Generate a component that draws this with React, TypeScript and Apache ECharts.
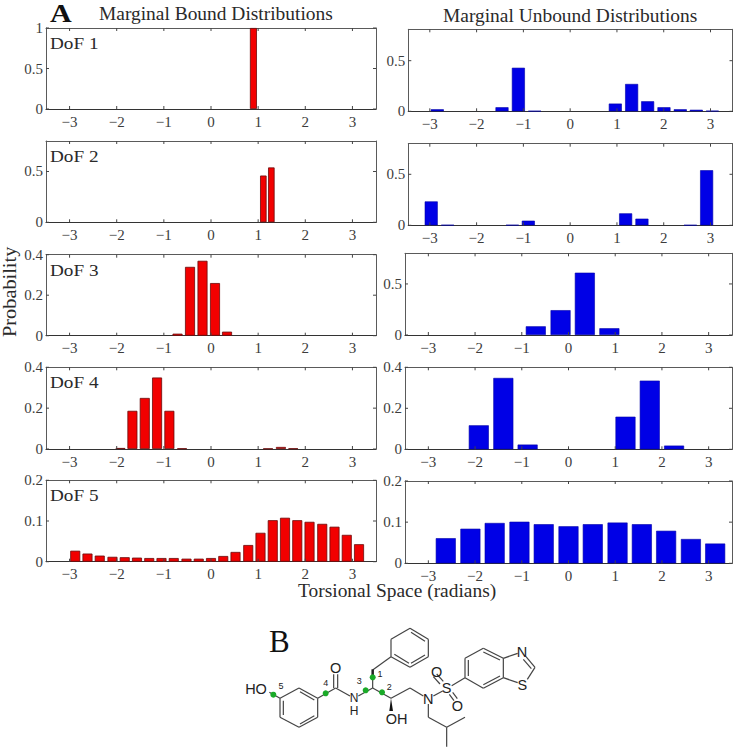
import React, { useEffect, useRef } from "react";
import * as echarts from "echarts";

const xTicks = [-3, -2, -1, 0, 1, 2, 3];
const panelLabels = ["DoF 1", "DoF 2", "DoF 3", "DoF 4", "DoF 5"];
const yTicksTall = [0, 0.5];
const yTicksUnit = [0, 0.5, 1];
const yTicksMid = [0, 0.2, 0.4];
const yTicksLow = [0, 0.1, 0.2];

// Bound (red) histograms
const bound1X = [0.9];
const bound1Y = [1.0];
const bound2X = [1.11, 1.28];
const bound2Y = [0.46, 0.54];
const bound3X = [-0.71, -0.445, -0.18, 0.085, 0.34];
const bound3Y = [0.01, 0.34, 0.37, 0.26, 0.02];
const bound4X = [-1.92, -1.667, -1.405, -1.144, -0.883, -0.614, 1.21, 1.483, 1.744];
const bound4Y = [0.005, 0.187, 0.25, 0.35, 0.187, 0.003, 0.002, 0.01, 0.003];
const bound5X = [-2.88, -2.62, -2.36, -2.09, -1.83, -1.57, -1.31, -1.05, -0.79, -0.52, -0.26, 0, 0.26, 0.52, 0.79, 1.05, 1.31, 1.57, 1.83, 2.09, 2.36, 2.62, 2.88, 3.14];
const bound5Y = [0.027, 0.02, 0.015, 0.012, 0.011, 0.01, 0.009, 0.009, 0.009, 0.0075, 0.0075, 0.009, 0.014, 0.024, 0.041, 0.071, 0.102, 0.108, 0.102, 0.098, 0.093, 0.086, 0.066, 0.043];

// Unbound (blue) histograms
const unbound1X = [-2.84, -1.457, -1.107, -0.759, 0.965, 1.314, 1.656, 2.005, 2.354, 2.696, 3.04];
const unbound1Y = [0.02, 0.04, 0.43, 0.003, 0.076, 0.27, 0.099, 0.04, 0.02, 0.015, 0.005];
const unbound2X = [-2.97, -2.62, -1.235, -0.894, 1.186, 1.534, 2.57, 2.917];
const unbound2Y = [0.234, 0.003, 0.003, 0.045, 0.117, 0.065, 0.002, 0.54];
const unbound3X = [-0.7, -0.17, 0.35, 0.875];
const unbound3Y = [0.085, 0.243, 0.61, 0.066];
const unbound4X = [-1.92, -1.395, -0.875, 1.22, 1.74, 2.26];
const unbound4Y = [0.117, 0.348, 0.023, 0.159, 0.335, 0.018];
const unbound5X = [-2.627, -2.1, -1.58, -1.05, -0.53, 0, 0.52, 1.05, 1.57, 2.09, 2.62, 3.14];
const unbound5Y = [0.061, 0.084, 0.098, 0.101, 0.095, 0.09, 0.095, 0.099, 0.095, 0.079, 0.059, 0.048];

const zip = (xs: number[], ys: number[]) => xs.map((x, i) => [x, ys[i]]);

const panels = [
  { l: 46, r: 376, t: 28, b: 109, max: 1, ticks: yTicksUnit, xs: bound1X, ys: bound1Y, w: 7, red: true },
  { l: 46, r: 376, t: 141, b: 222.3, max: 0.8, ticks: yTicksTall, xs: bound2X, ys: bound2Y, w: 6.5, red: true },
  { l: 46, r: 376, t: 254.7, b: 335.7, max: 0.4, ticks: yTicksMid, xs: bound3X, ys: bound3Y, w: 10, red: true },
  { l: 46, r: 376, t: 367.3, b: 449, max: 0.4, ticks: yTicksMid, xs: bound4X, ys: bound4Y, w: 10, red: true },
  { l: 46, r: 376, t: 480.3, b: 561.7, max: 0.2, ticks: yTicksLow, xs: bound5X, ys: bound5Y, w: 10, red: true },
  { l: 408.3, r: 732.5, t: 29.3, b: 111.3, max: 0.81, ticks: yTicksTall, xs: unbound1X, ys: unbound1Y, w: 13, red: false },
  { l: 408.3, r: 732.5, t: 143.7, b: 225.3, max: 0.8, ticks: yTicksTall, xs: unbound2X, ys: unbound2Y, w: 13, red: false },
  { l: 405, r: 732, t: 253.3, b: 335, max: 0.8, ticks: yTicksTall, xs: unbound3X, ys: unbound3Y, w: 20, red: false },
  { l: 405, r: 732, t: 367.3, b: 449.3, max: 0.4, ticks: yTicksMid, xs: unbound4X, ys: unbound4Y, w: 20, red: false },
  { l: 405, r: 732, t: 481, b: 563.3, max: 0.2, ticks: yTicksLow, xs: unbound5X, ys: unbound5Y, w: 20, red: false },
];

// x-range of each column; the upper two right-hand panels are offset a touch in the figure
const xMin = [-3.5, -3.5, -3.5, -3.5, -3.5, -3.46, -3.46, -3.5, -3.5, -3.5];
const xMax = [3.5, 3.5, 3.5, 3.5, 3.5, 3.47, 3.47, 3.5, 3.5, 3.5];

const SERIF = "'Liberation Serif', 'Times New Roman', serif";
const AXIS = "#5a5a5a";
const TEXT = "#3c3c3c";
const TICK_LEN = 3;

const fmt = (v: number) => String(v).replace("-", "\u2212");

const sx = (z: number) => 220 + z / 3;
const sy = (z: number) => 610 + z / 3;

// Skeletal formula of the ligand, in a local frame
const bonds: number[][] = [
  [237, 234, 293, 265], [293, 265, 293, 322], [293, 322, 237, 352], [237, 352, 180, 322], [180, 322, 180, 265], [180, 265, 237, 234],
  [190, 272, 190, 315], [240, 342, 283, 317], [240, 245, 283, 270],
  [180, 265, 148, 247], [293, 265, 347, 234],
  [341, 234, 341, 193], [353, 234, 353, 193],
  [347, 234, 390, 258], [415, 258, 458, 234], [458, 234, 458, 180], [458, 180, 513, 140],
  [513, 140, 513, 88], [513, 88, 570, 55], [570, 55, 625, 88], [625, 88, 625, 140], [625, 140, 570, 172], [570, 172, 513, 140],
  [523, 133, 567, 160], [573, 160, 615, 135], [615, 94, 573, 67],
  [458, 234, 513, 265], [513, 265, 570, 234], [570, 234, 610, 258],
  [625, 282, 625, 322], [625, 322, 680, 352], [680, 352, 735, 322], [680, 352, 680, 410],
  [640, 258, 668, 243],
  [660, 222, 640, 200], [670, 214, 650, 192],
  [688, 253, 702, 272], [698, 247, 712, 266],
  [695, 227, 735, 203],
  [735, 203, 735, 145], [735, 145, 790, 115], [790, 115, 850, 145], [850, 145, 850, 203], [850, 203, 790, 235], [790, 235, 735, 203],
  [745, 198, 745, 150], [790, 126, 840, 150], [840, 198, 790, 224],
  [850, 145, 893, 130], [918, 140, 945, 172], [910, 148, 934, 176], [945, 172, 922, 208], [893, 218, 850, 203],
];
const greenDots: number[][] = [[458, 202], [437, 241], [486, 247], [317, 250], [160, 254]];
const atoms: [string, number, number, number][] = [
  ["HO", 108, 236, 14.5], ["O", 347, 175, 14.5], ["N", 402, 263, 12], ["H", 402, 304, 12], ["OH", 530, 326, 14.5],
  ["N", 625, 267, 14.5], ["S", 680, 235, 14.5], ["O", 650, 185, 14.5], ["O", 712, 287, 14.5], ["N", 906, 125, 14.5], ["S", 907, 225, 14.5],
  ["1", 480, 192, 9], ["2", 508, 230, 9], ["3", 418, 212, 9], ["4", 317, 220, 9], ["5", 183, 228, 9],
];

function buildGraphics() {
  const label = (text: string, x: number, y: number, size: number, extra: any = {}) => ({
    type: "text", x, y, silent: true, ...extra,
    style: { text, fontFamily: SERIF, fontSize: size, fill: "#2a2a2a", textAlign: "left", textVerticalAlign: "middle", ...(extra.style || {}) },
  });
  const els: any[] = [
    label("A", 50, 13.5, 25, { scaleX: 1.2, style: { fontWeight: "bold", fill: "#111" } }),
    label("Marginal Bound Distributions", 99, 14, 18, { scaleX: 1.08 }),
    label("Marginal Unbound Distributions", 443, 16, 18, { scaleX: 1.08 }),
    label("Torsional Space (radians)", 298, 591, 18, { scaleX: 1.08 }),
    label("Probability", 10, 337, 18, { rotation: Math.PI / 2, scaleX: 1.13 }),
    label("B", 269, 641, 31, { style: { fill: "#111" } }),
  ];
  panelLabels.forEach((t, i) => {
    els.push(label(t, 50, panels[i].t + 15.5, 17, { scaleX: 1.13 }));
  });
  bonds.forEach((b) => {
    els.push({ type: "line", silent: true, shape: { x1: sx(b[0]), y1: sy(b[1]), x2: sx(b[2]), y2: sy(b[3]) }, style: { stroke: "#444", lineWidth: 1.2 } });
  });
  els.push({ type: "polygon", silent: true, shape: { points: [[sx(513), sy(265)], [sx(508), sy(303)], [sx(519), sy(303)]] }, style: { fill: "#111" } });
  els.push({ type: "line", silent: true, shape: { x1: sx(458), y1: sy(205), x2: sx(458), y2: sy(178) }, style: { stroke: "#222", lineWidth: 2.5 } });
  greenDots.forEach((d) => {
    els.push({ type: "circle", silent: true, shape: { cx: sx(d[0]), cy: sy(d[1]), r: 3 }, style: { fill: "#1aaa28" } });
  });
  atoms.forEach(([t, x, y, s]) => {
    els.push({
      type: "text", silent: true, x: sx(x), y: sy(y),
      style: { text: t, fontFamily: "'Liberation Sans', sans-serif", fontSize: s, fill: "#222", textAlign: "center", textVerticalAlign: "middle" },
    });
  });
  return els;
}

// Box ticks on all four sides of a panel, placed through the panel's own scales
function renderTick(params: any, api: any) {
  const c = params.coordSys;
  const isX = api.value(2) === 0;
  const p = api.coord([api.value(0), api.value(1)]);
  const style = { stroke: "#444", lineWidth: 1, fill: "none" };
  const seg = (x1: number, y1: number, x2: number, y2: number) => ({
    type: "line", silent: true, shape: { x1, y1, x2, y2 }, style,
  });
  const children = isX
    ? [seg(p[0], c.y + c.height, p[0], c.y + c.height - TICK_LEN), seg(p[0], c.y, p[0], c.y + TICK_LEN)]
    : [seg(c.x, p[1], c.x + TICK_LEN, p[1]), seg(c.x + c.width, p[1], c.x + c.width - TICK_LEN, p[1])];
  return { type: "group", children };
}

function buildOption() {
  const grid: any[] = [], xAxis: any[] = [], yAxis: any[] = [], series: any[] = [];
  panels.forEach((p, i) => {
    grid.push({ left: p.l, top: p.t, width: p.r - p.l, height: p.b - p.t, containLabel: false });
    const lineStyle = { color: AXIS, width: 1 };
    xAxis.push({
      type: "value", gridIndex: i, min: xMin[i], max: xMax[i], position: "bottom", splitLine: { show: false },
      axisLine: { show: true, onZero: false, lineStyle: { color: "#333", width: 1.2 } },
      axisTick: { show: false },
      axisLabel: { show: true, customValues: xTicks, formatter: fmt, fontFamily: SERIF, fontSize: 15, color: TEXT, margin: 5 },
    });
    xAxis.push({
      type: "value", gridIndex: i, min: xMin[i], max: xMax[i], position: "top", splitLine: { show: false },
      axisLine: { show: true, onZero: false, lineStyle },
      axisTick: { show: false }, axisLabel: { show: false },
    });
    yAxis.push({
      type: "value", gridIndex: i, min: 0, max: p.max, position: "left", splitLine: { show: false },
      axisLine: { show: true, onZero: false, lineStyle },
      axisTick: { show: false },
      axisLabel: { show: true, customValues: p.ticks, fontFamily: SERIF, fontSize: 15, color: TEXT, margin: 3, formatter: (v: number) => String(v) },
    });
    yAxis.push({
      type: "value", gridIndex: i, min: 0, max: p.max, position: "right", splitLine: { show: false },
      axisLine: { show: true, onZero: false, lineStyle },
      axisTick: { show: false }, axisLabel: { show: false },
    });
    series.push({
      type: "bar", xAxisIndex: i * 2, yAxisIndex: i * 2, barWidth: p.w,
      data: zip(p.xs, p.ys),
      itemStyle: p.red
        ? { color: "#f20000", borderColor: "#6a0a0a", borderWidth: 0.8 }
        : { color: "#0000e6", borderColor: "#0000a8", borderWidth: 0.6 },
    });
    series.push({
      type: "custom", coordinateSystem: "cartesian2d", xAxisIndex: i * 2, yAxisIndex: i * 2, silent: true, clip: false, z: 5,
      renderItem: renderTick,
      encode: { x: 0, y: 1 },
      data: [...xTicks.map((v) => [v, 0, 0]), ...p.ticks.map((v) => [0, v, 1])],
    });
  });
  return { animation: false, backgroundColor: "#fff", tooltip: { show: false }, grid, xAxis, yAxis, series, graphic: { elements: buildGraphics() } };
}

export default function App() {
  const ref = useRef<HTMLDivElement>(null);
  useEffect(() => {
    document.body.style.margin = "0";
    const chart = echarts.init(ref.current!, undefined, { renderer: "svg" });
    chart.setOption(buildOption() as any);
    return () => chart.dispose();
  }, []);
  return <div ref={ref} style={{ position: "absolute", left: 0, top: 0, width: 733, height: 748 }} />;
}
